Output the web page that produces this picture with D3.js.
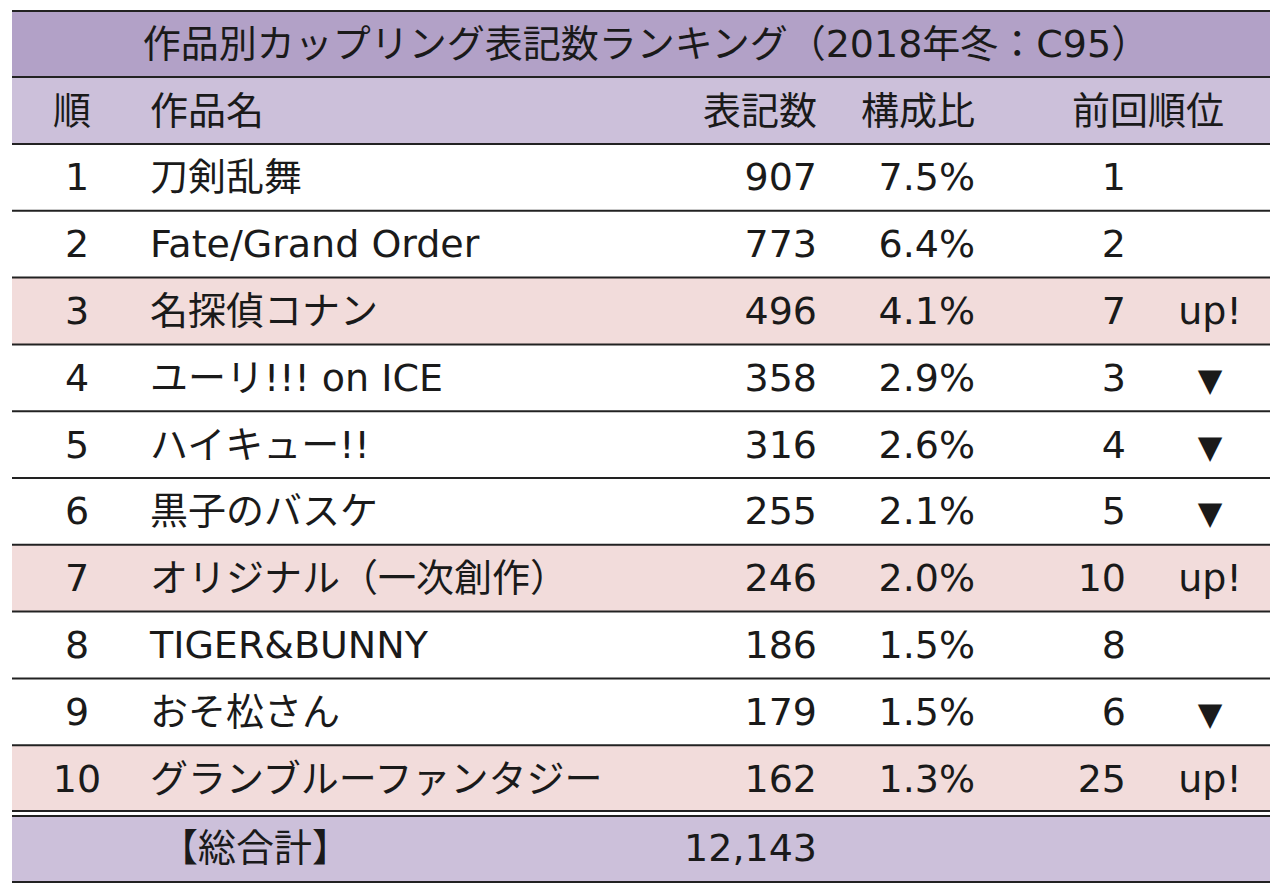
<!DOCTYPE html>
<html><head><meta charset="utf-8">
<script src="https://cdn.jsdelivr.net/npm/d3@7"></script>
<style>body{margin:0;background:#fff}text{font-family:"DejaVu Sans","Noto Sans CJK JP",sans-serif;fill:#1a1a1a}</style>
</head><body><svg id="c" width="1280" height="893"></svg>
<script>
var title = "作品別カップリング表記数ランキング（2018年冬：C95）";
var headers = ["順", "作品名", "表記数", "構成比", "前回順位"];
var ranks = [1, 2, 3, 4, 5, 6, 7, 8, 9, 10];
var names = ["刀剣乱舞", "Fate/Grand Order", "名探偵コナン", "ユーリ!!! on ICE", "ハイキュー!!", "黒子のバスケ", "オリジナル（一次創作）", "TIGER&BUNNY", "おそ松さん", "グランブルーファンタジー"];
var counts = [907, 773, 496, 358, 316, 255, 246, 186, 179, 162];
var ratios = ["7.5%", "6.4%", "4.1%", "2.9%", "2.6%", "2.1%", "2.0%", "1.5%", "1.5%", "1.3%"];
var prevRanks = [1, 2, 7, 3, 4, 5, 10, 8, 6, 25];
var total = 12143;

var svg = d3.select("#c");
var L = 12, R = 1270, W = R - L;
var y = d3.scaleLinear().domain([0, 10]).range([144, 812]);
var rowH = y(1) - y(0);
var fs = 38;

// title + header
svg.append("rect").attr("x", L).attr("y", 11).attr("width", W).attr("height", 66).attr("fill", "#b2a1c7");
svg.append("rect").attr("x", L).attr("y", 77).attr("width", W).attr("height", 67).attr("fill", "#ccc0da");
svg.append("text").attr("x", 646).attr("y", 57).attr("text-anchor", "middle").attr("font-size", fs).text(title);

var hx = [{x: 72, a: "middle"}, {x: 150, a: "start"}, {x: 817, a: "end"}, {x: 975, a: "end"}, {x: 1148, a: "middle"}];
headers.forEach(function (h, i) {
    svg.append("text").attr("x", hx[i].x).attr("y", 124).attr("text-anchor", hx[i].a).attr("font-size", fs).text(h);
});

// rows
ranks.forEach(function (r, i) {
    var top = y(i), base = top + rowH / 2 + 13;
    var prev = prevRanks[i];
    var mark = prev > r ? "up!" : (prev < r ? "▼" : "");
    if (mark == "up!") svg.append("rect").attr("x", L).attr("y", top).attr("width", W).attr("height", rowH).attr("fill", "#f2dcdb");
    svg.append("text").attr("x", 77).attr("y", base).attr("text-anchor", "middle").attr("font-size", fs).text(r);
    svg.append("text").attr("x", 150).attr("y", base).attr("font-size", fs).text(names[i]);
    svg.append("text").attr("x", 817).attr("y", base).attr("text-anchor", "end").attr("font-size", fs).text(counts[i]);
    svg.append("text").attr("x", 975).attr("y", base).attr("text-anchor", "end").attr("font-size", fs).text(ratios[i]);
    svg.append("text").attr("x", 1126).attr("y", base).attr("text-anchor", "end").attr("font-size", fs).text(prev);
    if (mark) svg.append("text").attr("x", 1210).attr("y", base).attr("text-anchor", "middle").attr("font-size", mark == "▼" ? 32 : fs).text(mark);
});

// total
svg.append("rect").attr("x", L).attr("y", 816).attr("width", W).attr("height", 66).attr("fill", "#ccc0da");
svg.append("text").attr("x", 160).attr("y", 861).attr("font-size", fs).text("【総合計】");
svg.append("text").attr("x", 817).attr("y", 861).attr("text-anchor", "end").attr("font-size", fs).text(d3.format(",")(total));

// lines
var lines = [11, 77, 144].concat(d3.range(1, 10).map(function (i) { return y(i); }), [811, 816, 882]);
svg.selectAll("line.h").data(lines).enter().append("line")
    .attr("x1", L).attr("x2", R).attr("y1", function (d) { return d; }).attr("y2", function (d) { return d; })
    .attr("stroke", "#222").attr("stroke-width", 2);
</script></body></html>
